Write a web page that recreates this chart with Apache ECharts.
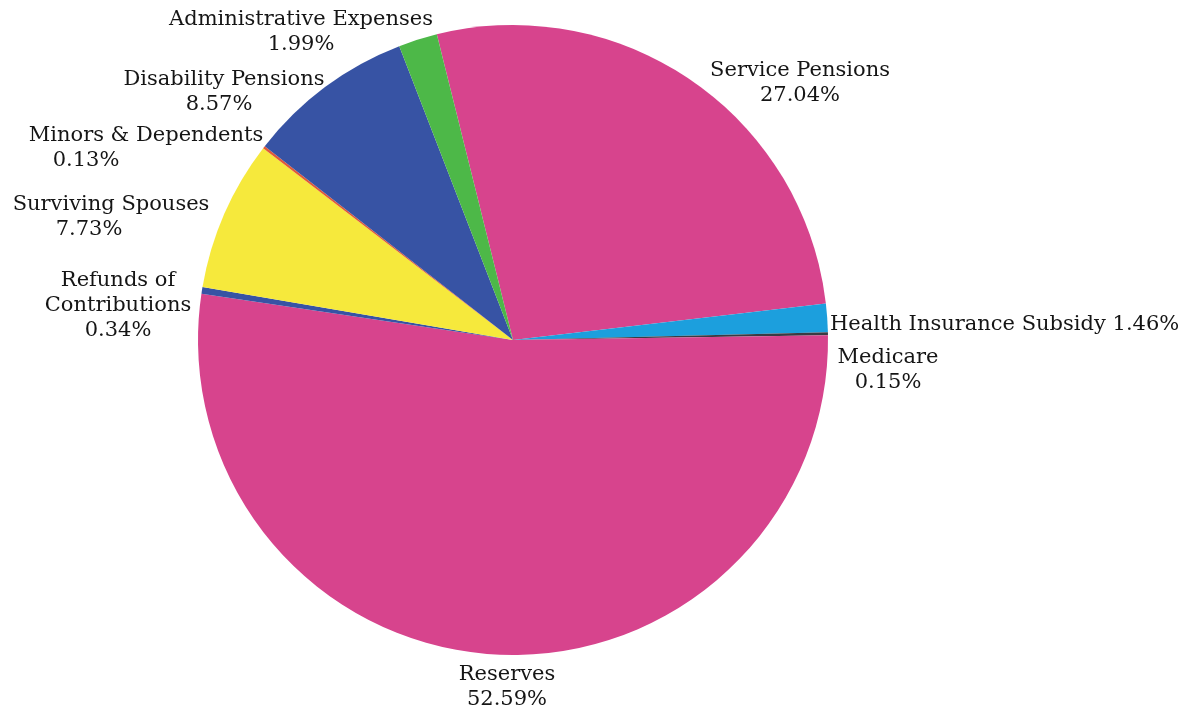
<!DOCTYPE html>
<html>
<head>
<meta charset="utf-8">
<script src="https://cdn.jsdelivr.net/npm/echarts@6/dist/echarts.min.js"></script>
<style>
  html, body { margin: 0; padding: 0; background: #ffffff; }
  #chart { width: 1192px; height: 711px; }
</style>
</head>
<body>
<div id="chart"></div>
<script>
// Pension fund disbursements, share of total (%)
const categories = [
  'Service Pensions',
  'Health Insurance Subsidy',
  'Medicare',
  'Reserves',
  'Refunds of Contributions',
  'Surviving Spouses',
  'Minors & Dependents',
  'Disability Pensions',
  'Administrative Expenses'
];
const shares = [27.04, 1.46, 0.15, 52.59, 0.34, 7.73, 0.13, 8.57, 1.99];
const sliceColors = ['#d7448d', '#1c9fdd', '#3a3b43', '#d7448d', '#3753a4', '#f6e93c', '#e05a3a', '#3753a4', '#4db848'];

// Label text as printed next to each slice
const labelNames = [
  'Service Pensions',
  'Health Insurance Subsidy',
  'Medicare',
  'Reserves',
  'Refunds of\nContributions',
  'Surviving Spouses',
  'Minors & Dependents',
  'Disability Pensions',
  'Administrative Expenses'
];

// Where each label block sits: [x, y, horizontal align]
const labelSpots = [
  [800, 83, 'center'],
  [830, 325, 'left'],
  [888, 370, 'center'],
  [507, 687, 'center'],
  [118, 306, 'center'],
  [111, 217, 'center'],
  [146, 148, 'center'],
  [224, 92, 'center'],
  [301, 32, 'center']
];
// Extra right padding on the value line, nudging it left under a centered name
const valueNudge = [0, 0, 0, 0, 0, 44, 120, 10, 0];

const chart = echarts.init(document.getElementById('chart'), null, { renderer: 'canvas' });

const data = categories.map((name, i) => ({
  name: name,
  value: shares[i],
  itemStyle: { color: sliceColors[i] },
  label: {
    formatter: () => i === 1
      ? '{n|' + labelNames[i] + ' ' + shares[i].toFixed(2) + '%}'
      : labelNames[i].split('\n').map(s => '{n|' + s + '}').join('\n') +
        '\n{v' + i + '|' + shares[i].toFixed(2) + '%}'
  }
}));

const textStyle = { fontFamily: 'DejaVu Serif', fontSize: 21, color: '#151515', lineHeight: 25 };
const rich = { n: Object.assign({}, textStyle) };
valueNudge.forEach((p, i) => {
  rich['v' + i] = Object.assign({}, textStyle, { padding: [0, p, 0, 0] });
});

chart.setOption({
  animation: false,
  backgroundColor: '#ffffff',
  series: [{
    type: 'pie',
    center: [513, 340],
    radius: 315,
    startAngle: 104,
    clockwise: true,
    data: data,
    itemStyle: { borderWidth: 0 },
    label: {
      show: true,
      position: 'inside',
      overflow: 'none',
      rich: rich,
      align: 'center'
    },
    labelLine: { show: false },
    labelLayout: function (params) {
      const s = labelSpots[params.dataIndex];
      return { x: s[0], y: s[1], align: s[2], verticalAlign: 'middle', moveOverlap: false, hideOverlap: false };
    },
    emphasis: { disabled: true }
  }]
});
</script>
</body>
</html>
